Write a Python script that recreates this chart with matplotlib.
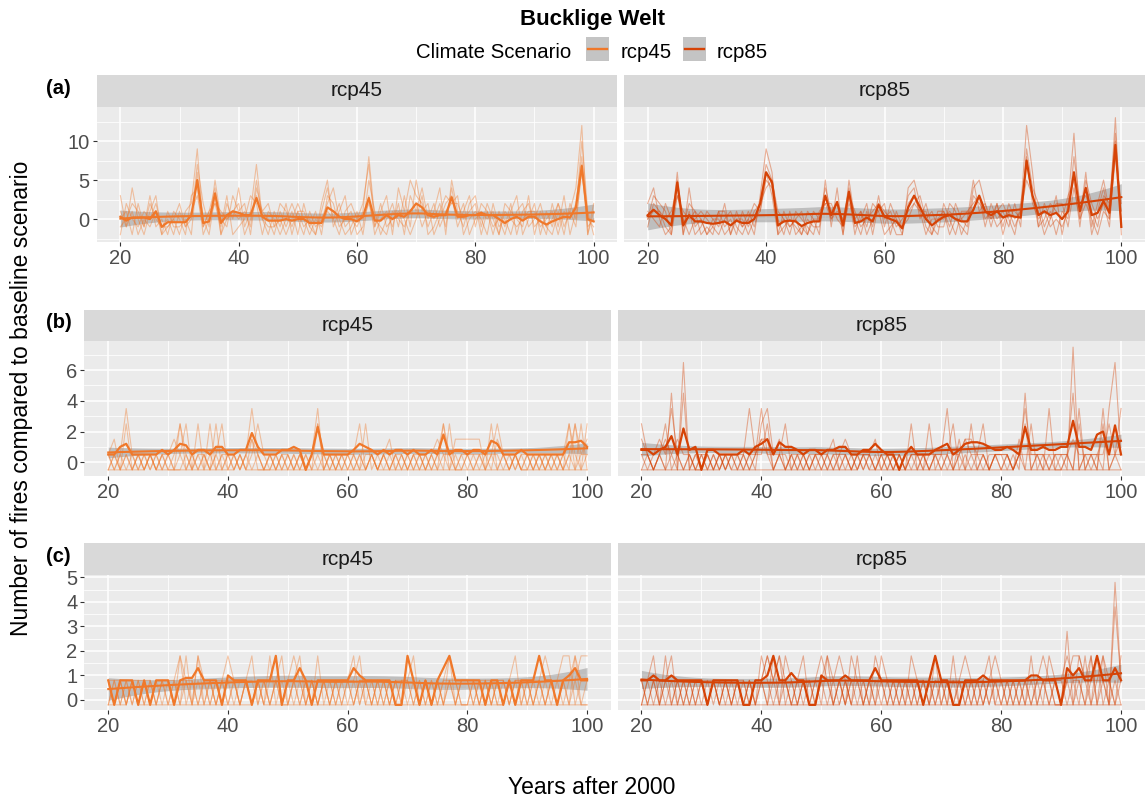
#!/usr/bin/env python3
"""
Bucklige Welt: change in number of fires per year vs baseline, rcp45 / rcp85.
"""

import numpy as np
import matplotlib
matplotlib.use('Agg')
import matplotlib.pyplot as plt
from matplotlib.patches import Rectangle
from matplotlib.lines import Line2D
from matplotlib.ticker import FixedLocator

plt.rcParams['font.family'] = ['Liberation Sans', 'DejaVu Sans']

YEARS = list(range(20, 101))
SCENARIOS = ['rcp45', 'rcp85']
COLORS = {'rcp45': '#F0782A', 'rcp85': '#D64306'}

# ---------------- row (a) ----------------
A45_MED = [0.3, -0.2, 0.2, 0.2, 0.2, 0.0, 1.0, -1.0, -0.4, -0.4,
           -0.4, -0.4, 0.5, 5.0, -0.5, -0.3, 3.3, -0.5, 0.5, 1.0,
           0.8, 0.5, 0.5, 2.7, 0.3, -0.2, -0.2, -0.2, 0.0, -0.2,
           0.0, 0.0, -0.5, -0.5, -0.5, 1.5, 1.0, 0.3, 0.0, 0.0,
           -0.3, 0.3, 2.7, -0.2, -0.2, 0.5, 0.0, 0.5, 0.3, 1.0,
           2.0, 1.5, 0.5, 0.3, 0.5, 0.5, 2.8, 0.3, 0.3, 0.5,
           0.5, 0.8, 0.5, 0.5, 0.0, -0.5, 0.0, 0.3, -0.2, 0.3,
           0.3, -0.3, -0.7, -0.3, 0.0, 0.3, 0.2, 1.5, 6.8, 0.0,
           -0.3]
A85_MED = [0.5, 1.2, 0.5, 0.0, -0.8, 4.7, -0.8, 0.5, -0.3, -0.3,
           -0.5, -0.6, -0.5, -0.3, -0.8, -0.2, -0.5, -0.5, 0.0, 2.0,
           6.0, 4.7, -0.8, -0.3, -0.2, -0.3, -0.9, -0.5, -0.3, -0.3,
           3.0, 0.5, 2.2, -0.8, 3.5, -0.5, -0.3, 0.2, -0.3, 1.8,
           0.3, 0.0, -0.3, -1.2, 1.5, 3.0, 1.5, 0.0, -0.8, -0.2,
           0.3, 0.5, 0.0, -0.3, -0.3, 1.2, 3.0, 1.0, 0.5, 1.0,
           0.2, 0.5, 0.3, 0.2, 7.5, 3.0, 0.5, 1.0, 0.5, 0.8,
           0.0, 1.0, 6.0, 1.0, 4.0, 0.5, 0.8, 2.3, 0.8, 9.5,
           -1.0]

A45_RUNS = [
    [1, -1, 4, 0, -2, 1, 3, -2, -1, 0, -2, 1, 2, 9, -1, 1, 4, -2, 2, 0,
     4, -1, 1, 7, 0, -2, 1, -1, 2, -2, 1, -1, 0, -2, 2, 5, -1, 1, 3, -2,
     0, 2, 7, -1, 1, 3, -2, 4, 1, 5, 3, 2, -1, 1, 4, -2, 5, 1, -1, 2,
     3, -1, 2, 0, -2, 2, 1, 3, -2, 0, 2, -2, 1, -1, 2, 0, 1, 4, 12, -2, 1],
    [-2, 2, 0, -1, 1, 0, 2, -1, 0, -2, 1, -1, 0, 7, 2, -1, 5, 0, -1, 3,
     1, 2, -2, 4, 1, 0, -2, 1, -1, 1, -2, 2, -1, 1, -2, 3, 2, -1, 0, 1,
     -2, -1, 5, 1, -2, 0, 2, -1, 3, -1, 5, 1, 2, -2, 0, 2, 3, -1, 1, 3,
     -1, 2, 1, -2, 1, -1, 2, -2, 1, 2, -1, 0, -2, 2, -1, 3, -2, 1, 10, 1, -2],
    [0, 1, -2, 2, -1, 3, -1, 0, -2, 1, 0, -2, 3, 4, -2, 0, 2, -1, 3, -2,
     -1, 0, 3, 2, -2, 1, 0, -2, 0, 2, 0, -2, 1, -1, 0, 2, 4, 0, -2, -1,
     1, -2, 3, -2, 0, 1, -1, 2, -2, 3, 1, 4, 0, 2, -1, 1, 2, 3, -2, 0,
     1, 0, -2, 2, -1, 0, -2, 1, 2, -1, 0, 2, -1, -2, 1, -2, 2, 0, 6, 0, -1],
    [3, -1, 1, -2, 0, -1, 1, -2, 1, -1, -1, 0, -2, 6, 0, -2, 3, -2, 0, 1,
     2, -2, 0, 3, 1, 2, -1, 0, -2, 0, 2, 0, -2, 0, -1, 1, 0, 2, -1, 0,
     -1, 1, 8, 0, -1, -2, 1, 0, -1, 1, 2, -1, 1, 0, 2, -1, 4, 0, 2, -2,
     0, 1, 0, 1, -2, 1, 0, -1, 0, 1, 1, -1, 0, 1, -2, 1, 0, 2, 8, -1, 0],
    [-1, 0, 2, 1, -1, 2, 0, -1, -1, 0, 2, -1, 1, 3, -1, 1, 2, 1, 0, 1,
     0, 1, -1, 5, 0, -1, -1, 2, 1, -1, 1, 1, -1, -2, 1, 4, 0, -2, 1, 2,
     0, 0, 2, -1, 2, -1, 0, 1, 0, -2, 0, 3, -2, -1, 1, 3, 2, 2, 0, 1,
     2, -2, 1, -1, 0, -2, 1, 0, -1, 3, -2, 1, -1, 0, 2, -1, 1, -1, 7, -2, 2],
]
A85_RUNS = [
    [2, 4, 0, -2, -1, 6, -2, 4, -1, 0, -2, 0, -1, 2, -2, 1, -1, 0, -2, 3,
     9, 6, -2, 1, -1, 0, -2, 1, 0, -2, 5, -1, 4, -2, 5, 0, -2, 1, -1, 3,
     -1, 2, 0, -2, 4, 5, 2, -1, -2, 1, 1, -1, 2, 0, -1, 4, 5, 2, -1, 2,
     -1, 2, 0, 1, 12, 6, -1, 2, 0, 3, -2, 2, 11, 0, 6, -1, 2, 5, 1, 13, -2],
    [0, 3, 2, 1, -2, 5, -1, 2, 1, -2, -1, -2, 1, -1, 0, -2, 1, -1, 1, 2,
     7, 5, 0, -2, 1, -2, -1, -2, 1, 0, 4, 1, 2, -1, 3, -2, 1, -1, 2, 1,
     2, -2, 1, -1, 3, 4, 0, 2, -1, -2, 2, 0, -2, 1, 1, 2, 3, -1, 2, 0,
     1, -1, 2, -1, 9, 4, 2, -1, 1, -2, 1, 0, 8, 2, 3, 1, -1, 3, 2, 11, 0],
    [1, 0, -1, 2, 0, 3, 0, -2, 0, 1, 0, -1, -2, 0, 1, -1, -2, 0, 2, 1,
     5, 4, -1, 0, -2, 1, 0, -1, -2, 1, 2, 0, 1, 0, 4, -1, 0, 2, -2, 2,
     0, 1, -1, 0, 1, 2, 3, 0, 1, -1, -1, 2, 1, -2, 0, 5, 1, 2, 0, 1,
     2, 0, -2, 2, 7, 3, -1, 0, 2, 1, 0, 3, 5, -1, 5, 2, 0, 2, -1, 9, 1],
    [-1, 2, 1, 0, 1, 4, -2, 1, -2, -1, 1, 0, 0, -2, -1, 0, 0, -2, 0, 1,
     6, 3, -2, -1, 0, -1, -2, 0, -1, -1, 3, 0, 2, -2, 3, 1, -1, 0, 1, 2,
     1, 0, -2, -2, 2, 3, 1, -2, 0, 0, 0, 1, 0, -1, -2, 3, 2, 1, 0, 2,
     -2, 1, 1, 0, 8, 2, 0, 1, -1, 0, -1, 1, 6, 1, 4, -2, 1, 4, 0, 10, -1],
    [0, 1, 1, -1, -2, 3, 1, 0, 1, 0, -2, -1, 1, 1, -2, 0, -1, 1, -1, 2,
     4, 5, 1, 0, -1, 0, 1, -2, 0, 0, 2, 2, 0, -1, 2, 0, 1, -2, 0, 1,
     -2, -1, 0, -1, 0, 2, 1, 1, -2, 0, 1, -2, 0, 0, 1, 1, 3, 0, 1, -1,
     0, 1, -1, 1, 5, 3, 1, -2, 0, 2, 2, -1, 4, 0, 2, 0, -2, 1, 0, 8, 2],
]

# ---------------- row (b): runs are yearly fire counts, shifted by baseline ----------------
B_OFFSET = -0.5
B45_MED = [0.5, 0.5, 1.0, 1.2, 0.5, 0.5, 0.5, 0.5, 0.5, 0.8,
           0.5, 0.8, 1.2, 1.1, 0.5, 0.8, 0.8, 0.5, 1.0, 1.0,
           0.5, 0.5, 0.8, 0.8, 1.9, 1.0, 0.5, 0.5, 0.5, 0.8,
           0.8, 1.0, 0.8, -0.5, 0.5, 2.3, 0.5, 0.5, 0.5, 0.5,
           0.5, 0.8, 1.2, 1.0, 0.8, 0.5, 0.8, 0.5, 0.8, 0.8,
           0.5, 0.8, 0.5, 0.5, 0.8, 0.5, 1.8, 0.5, 0.8, 0.8,
           0.5, 0.8, 0.8, 0.5, 1.4, 1.2, 0.5, 0.5, 0.5, 0.8,
           0.5, 0.5, 0.5, 0.5, 0.5, 0.5, 0.5, 1.3, 1.3, 1.4,
           1.0]
B85_MED = [0.8, 0.8, 0.5, 0.8, 1.0, 1.7, 0.5, 2.2, 0.8, 1.0,
           -0.5, 0.8, 0.8, 0.5, 0.5, 0.5, 0.5, 0.8, 0.5, 1.0,
           1.2, 1.5, 0.5, 1.3, 1.0, 1.0, 0.8, 0.5, 0.8, 0.8,
           0.5, 0.8, 0.8, 1.0, 1.0, 0.5, 0.5, 0.8, 0.8, 1.2,
           0.8, 0.5, 0.5, -0.5, 0.5, 1.0, 0.5, 0.5, 0.5, 0.8,
           1.0, 1.2, 0.5, 0.8, 1.2, 1.3, 1.3, 1.2, 1.0, 0.8,
           0.8, 1.0, 0.8, 0.5, 2.3, 0.8, 0.8, 1.0, 0.8, 0.8,
           1.0, 1.0, 2.7, 1.0, 1.0, 0.8, 1.8, 2.0, 0.5, 2.4,
           0.5]
B45_RUNS = [
    "1014101010" "1031030101" "0101410101" "1010140101" "0130101010"
    "1010103022" "2220301010" "1010101031" "2",
    "0103010101" "0013010301" "1010200101" "0101030101" "1010101201"
    "0101013101" "0101021010" "0101010303" "0",
    "0000000100" "0000000000" "0010000000" "0000000000" "0000100000"
    "0000000000" "0000000010" "0000000000" "0",
    "1201010101" "1210101030" "1010131010" "1010131010" "1010101010"
    "1010121010" "1010131010" "1010101310" "1",
    "0101010101" "0130101013" "0101210101" "0101010101" "0103010101"
    "0101010301" "1111110101" "0101010130" "3",
    "1010101010" "1001011010" "1101010010" "1010101010" "1101101011"
    "0110101100" "1010101101" "1010110101" "1",
]
B85_RUNS = [
    "3101050701" "0101010141" "4101301010" "1010101010" "1010101030"
    "1401030101" "1010501010" "1080101047" "1",
    "1012141010" "1010101010" "3412010101" "0120101012" "0101030101"
    "0130101301" "0101301040" "0104010401" "4",
    "0000000000" "0000100000" "0000000000" "0000000100" "0000000000"
    "0000000000" "0001000000" "0000000000" "0",
    "1101010501" "1101011101" "2201101011" "1101210110" "1101011011"
    "1101221101" "1101411101" "1150111211" "1",
    "0101301010" "0101010101" "1301010101" "0101010101" "0101010101"
    "0102010101" "0102030101" "0103010301" "0",
    "2101212110" "1010111011" "2111011101" "1011101110" "1011011101"
    "1011211011" "1101111111" "1121111131" "2",
]

# ---------------- row (c) ----------------
C_OFFSET = -0.2
C45_MED = [0.8, -0.2, 0.8, 0.8, 0.8, -0.2, 0.8, -0.2, 0.8, 0.8,
           0.8, -0.2, 0.8, 0.9, 0.9, 1.3, 0.8, 0.8, 0.8, -0.2,
           1.0, 0.8, 0.8, 0.8, -0.2, 0.8, 0.8, 0.8, 1.8, -0.2,
           0.8, 0.8, 1.3, 0.8, -0.2, 0.8, 0.8, 0.8, 0.8, 0.8,
           0.8, 1.3, 1.0, 0.8, 0.8, 0.8, 0.8, 0.8, -0.2, -0.2,
           1.8, 0.8, -0.2, 0.8, -0.2, 0.8, 1.3, 1.8, 0.8, 0.8,
           0.8, 0.8, 0.8, -0.2, 0.8, 0.8, -0.2, 0.8, -0.2, 0.8,
           0.8, 0.8, 1.8, 0.8, 0.8, -0.2, 0.8, 1.0, 1.3, 0.8,
           0.8]
C85_MED = [0.8, 0.8, 1.0, 0.8, 0.8, 1.0, 0.8, 0.8, 0.8, 0.8,
           0.8, -0.2, 0.8, 0.8, 0.8, 0.8, 0.8, -0.2, -0.2, 0.8,
           0.8, 1.0, 1.8, 0.8, 0.8, 1.1, 0.8, 0.8, -0.2, -0.2,
           1.0, 0.8, 0.8, 0.8, 1.0, 0.8, 0.8, 0.8, 0.8, 1.3,
           0.8, 0.8, 0.8, 0.8, 0.8, 0.8, 0.8, -0.2, 0.8, 1.8,
           0.8, 0.8, -0.2, -0.2, 0.8, 0.8, 0.8, 1.0, 0.8, 0.8,
           0.8, 0.8, 0.8, 0.8, 0.8, 1.0, 1.0, 0.8, 0.8, 0.8,
           -0.2, 1.3, 1.0, 1.3, 0.8, 0.8, 1.8, 0.8, 0.8, 1.3,
           0.8]
C45_RUNS = [
    "0101010101" "0102020101" "0101010120" "0120101010" "1201010101"
    "1010101201" "1010100120" "1010101021" "1",
    "1010101010" "1020101011" "2101010201" "0101020101" "0120101010"
    "2101010210" "0101010101" "0101011120" "0",
    "0000100000" "0000000000" "0000010000" "0000000000" "0010000000"
    "0000000000" "0000000100" "0000000000" "0",
    "1101011011" "1011021101" "1011101010" "1210101011" "1011010101"
    "1201010101" "1101101011" "0110112201" "1",
    "0110101101" "0101101010" "1101011012" "0101101101" "1011101010"
    "1010101101" "1011011010" "1012101012" "2",
    "1010110101" "1121010101" "0101201010" "1010101010" "1101011011"
    "0101010110" "0101011011" "1010110110" "1",
]
C85_RUNS = [
    "0120120101" "1010101010" "1210210101" "2101010102" "1010101010"
    "1010101012" "1010101210" "0301020105" "1",
    "1010201010" "1010101010" "1020101201" "0210102010" "2101010102"
    "0101010101" "0101020101" "0102120201" "0",
    "0000000000" "0010000000" "0000000000" "0000100000" "0000000000"
    "0000000010" "0000000000" "0000000000" "0",
    "1101101101" "1011011010" "2101101011" "1201011010" "1011021101"
    "1020101101" "1101101021" "1210201104" "1",
    "0110110110" "1101101101" "1212010110" "1012101101" "0110110110"
    "1101211011" "0110110110" "0122102010" "2",
    "1011011011" "0110110101" "1012100110" "1101021011" "1101101101"
    "0111010120" "1011011101" "1011011210" "1",
]


def counts(runs, offset):
    out = []
    for s in runs:
        assert len(s) == len(YEARS), len(s)
        out.append([int(c) + offset for c in s])
    return out


DATA = {
    0: {'rcp45': (A45_RUNS, A45_MED), 'rcp85': (A85_RUNS, A85_MED)},
    1: {'rcp45': (counts(B45_RUNS, B_OFFSET), B45_MED),
        'rcp85': (counts(B85_RUNS, B_OFFSET), B85_MED)},
    2: {'rcp45': (counts(C45_RUNS, C_OFFSET), C45_MED),
        'rcp85': (counts(C85_RUNS, C_OFFSET), C85_MED)},
}


def loess(x, y, span=0.75):
    # local quadratic fit with tricube weights (like geom_smooth's loess)
    x = np.asarray(x, float)
    y = np.asarray(y, float)
    n = len(x)
    q = int(np.floor(n * span))
    L = np.zeros((n, n))
    for i, x0 in enumerate(x):
        d = np.abs(x - x0)
        h = np.sort(d)[q - 1]
        w = np.clip(1 - (d / h) ** 3, 0, None) ** 3
        X = np.vstack([np.ones(n), x - x0, (x - x0) ** 2]).T
        XtW = X.T * w
        L[i] = np.linalg.solve(XtW @ X, XtW)[0]
    fit = L @ y
    sigma = np.sqrt(np.sum((y - fit) ** 2) / (n - np.trace(L)))
    se = sigma * np.sqrt(np.sum(L ** 2, axis=1))
    return fit, se


# layout in pixels of the 1145x801 image
W, H = 1145, 801
ROWS = [
    dict(label='(a)', strip=(75, 106.7), panel=(106.7, 241.7),
         cols=[(96.7, 617.3), (624, 1145)], ylim=(-2.9, 14.4),
         yticks=[0, 5, 10], yminor=[-2.5, 2.5, 7.5, 12.5]),
    dict(label='(b)', strip=(310, 341), panel=(341, 476),
         cols=[(84.3, 611), (617.5, 1145)], ylim=(-0.9, 7.9),
         yticks=[0, 2, 4, 6], yminor=[1, 3, 5, 7]),
    dict(label='(c)', strip=(543.3, 575), panel=(575, 710),
         cols=[(84.3, 611), (617.5, 1145)], ylim=(-0.41, 5.1),
         yticks=[0, 1, 2, 3, 4, 5], yminor=[0.5, 1.5, 2.5, 3.5, 4.5]),
]


def box(x0, y0, x1, y1):
    return [x0 / W, 1 - y1 / H, (x1 - x0) / W, (y1 - y0) / H]


fig = plt.figure(figsize=(W / 100, H / 100), dpi=100)

for r, row in enumerate(ROWS):
    for c, scen in enumerate(SCENARIOS):
        x0, x1 = row['cols'][c]
        col = COLORS[scen]
        runs, med = DATA[r][scen]

        sax = fig.add_axes(box(x0, row['strip'][0], x1, row['strip'][1]))
        sax.set_facecolor('#D9D9D9')
        sax.set_xticks([])
        sax.set_yticks([])
        for sp in sax.spines.values():
            sp.set_visible(False)
        sax.text(0.5, 0.5, scen, ha='center', va='center', fontsize=15,
                 color='#1A1A1A', transform=sax.transAxes)

        ax = fig.add_axes(box(x0, row['panel'][0], x1, row['panel'][1]))
        ax.set_facecolor('#EBEBEB')
        for sp in ax.spines.values():
            sp.set_visible(False)
        ax.set_axisbelow(True)

        for run in runs:
            ax.plot(YEARS, run, color=col, lw=0.8, alpha=0.4)
        fit, se = loess(YEARS, med)
        ax.fill_between(YEARS, fit - 2.2 * se, fit + 2.2 * se,
                        color='#999999', alpha=0.55, lw=0)
        ax.plot(YEARS, med, color=col, lw=1.6)
        ax.plot(YEARS, fit, color=col, lw=1.5)

        ax.set_xlim(16, 104)
        ax.set_ylim(*row['ylim'])
        ax.set_xticks([20, 40, 60, 80, 100])
        ax.xaxis.set_minor_locator(FixedLocator([30, 50, 70, 90]))
        ax.set_yticks(row['yticks'])
        ax.yaxis.set_minor_locator(FixedLocator(row['yminor']))
        ax.grid(which='major', color='white', lw=1.1)
        ax.grid(which='minor', color='white', lw=0.55)
        ax.tick_params(which='major', length=3, width=0.8, color='#333333',
                       labelsize=14.5, labelcolor='#4D4D4D', pad=2)
        ax.tick_params(which='minor', length=0)
        if c == 1:
            ax.tick_params(axis='y', left=False, labelleft=False)

    fig.text(46 / W, 1 - (row['strip'][0] + 13) / H, row['label'],
             fontsize=14.5, fontweight='bold', ha='left', va='center')

# title and legend
CX = 592
fig.text(CX / W, 1 - 20 / H, 'Bucklige Welt', fontsize=16, fontweight='bold',
         ha='center', va='center')
fig.text(416 / W, 1 - 52 / H, 'Climate Scenario', fontsize=14.7,
         ha='left', va='center')
for kx, tx, scen in [(586, 621, 'rcp45'), (683, 717, 'rcp85')]:
    fig.add_artist(Rectangle((kx / W, 1 - 61 / H), 23 / W, 24 / H,
                             transform=fig.transFigure, facecolor='#C4C4C4',
                             edgecolor='none'))
    fig.add_artist(Line2D([(kx + 2) / W, (kx + 21) / W], [1 - 49 / H, 1 - 49 / H],
                          transform=fig.transFigure, color=COLORS[scen], lw=1.7))
    fig.text(tx / W, 1 - 52 / H, scen, fontsize=14.7, ha='left', va='center')

fig.text(CX / W, 1 - 787 / H, 'Years after 2000', fontsize=16.5,
         ha='center', va='center')
fig.text(22 / W, 1 - 398 / H, 'Number of fires compared to baseline scenario',
         fontsize=16.5, rotation=90, ha='center', va='center')

fig.savefig('out.png', dpi=100)
print('saved out.png')
